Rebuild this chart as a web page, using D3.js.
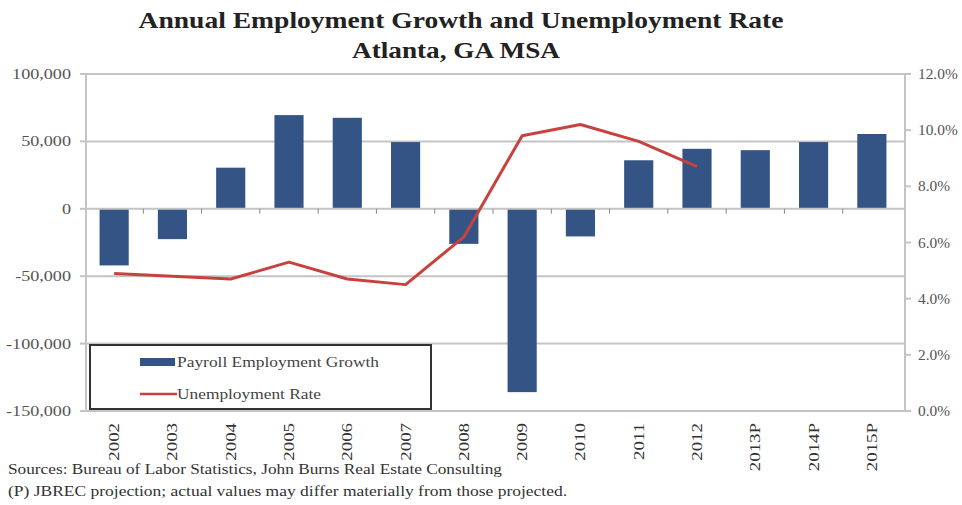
<!DOCTYPE html>
<html><head><meta charset="utf-8">
<script src="https://cdn.jsdelivr.net/npm/d3@7"></script>
<style>body{margin:0;background:#fff}text{font-family:"Liberation Serif","Times New Roman",serif}</style>
</head><body><svg id="c" width="962" height="505"></svg>
<script>
const categories=["2002","2003","2004","2005","2006","2007","2008","2009","2010","2011","2012","2013P","2014P","2015P"];
const payrollGrowth=[-42000,-22500,30500,69500,67500,49500,-26000,-136000,-20500,36000,44500,43500,49500,55500];
const unemploymentRate=[4.9,4.8,4.7,5.3,4.7,4.5,6.2,9.8,10.2,9.6,8.7,null,null,null];
const leftTicks=[100000,50000,0,-50000,-100000,-150000];
const rightTicks=[0,2,4,6,8,10,12];
const titleLines=["Annual Employment Growth and Unemployment Rate","Atlanta, GA MSA"];
const sourceLines=["Sources: Bureau of Labor Statistics, John Burns Real Estate Consulting","(P) JBREC projection; actual values may differ materially from those projected."];
const legendLabels=["Payroll Employment Growth","Unemployment Rate"];

const svg=d3.select("#c");
const L=86,R=905,T=74,B=411;
const x=d3.scaleBand().domain(categories).range([85,901]).paddingInner(0.5).paddingOuter(0.25);
const y=d3.scaleLinear().domain([-150000,100000]).range([B,T]);
const y2=d3.scaleLinear().domain([0,12]).range([B,T]);
const grid="#c4c4c4", txt="#555";

// gridlines
svg.append("g").selectAll("line").data(leftTicks.filter(d=>d!==0)).join("line")
 .attr("x1",L).attr("x2",R).attr("y1",d=>y(d)).attr("y2",d=>y(d))
 .attr("stroke",grid).attr("stroke-width",2);

// bars
const bw=x.bandwidth();
svg.append("g").selectAll("rect").data(payrollGrowth).join("rect")
 .attr("x",(d,i)=>x(categories[i])).attr("width",bw)
 .attr("y",d=>y(Math.max(0,d))).attr("height",d=>Math.abs(y(d)-y(0)))
 .attr("fill","#335485");

// zero axis with ticks
svg.append("line").attr("x1",L).attr("x2",R).attr("y1",y(0)).attr("y2",y(0)).attr("stroke",grid).attr("stroke-width",2);
const step=x.step();
svg.append("g").selectAll("line").data(categories.slice(1)).join("line")
 .attr("x1",d=>x(d)-step*0.25).attr("x2",d=>x(d)-step*0.25)
 .attr("y1",y(0)).attr("y2",y(0)+5).attr("stroke","#888").attr("stroke-width",1);

// left axis
const la=svg.append("g");
la.append("line").attr("x1",L).attr("x2",L).attr("y1",T).attr("y2",B).attr("stroke",grid).attr("stroke-width",2);
la.selectAll("line.t").data(leftTicks).join("line").attr("class","t")
 .attr("x1",L-6).attr("x2",L).attr("y1",d=>y(d)).attr("y2",d=>y(d)).attr("stroke",grid).attr("stroke-width",2);
la.selectAll("text").data(leftTicks).join("text")
 .attr("transform",d=>`translate(71,${y(d)+5}) scale(1.25,1)`).attr("text-anchor","end").attr("font-size",14.5).attr("fill",txt)
 .text(d=>d3.format(",")(d).replace("−","-"));

// right axis
const ra=svg.append("g");
ra.append("line").attr("x1",R).attr("x2",R).attr("y1",T).attr("y2",B).attr("stroke",grid).attr("stroke-width",2);
ra.selectAll("line.t").data(rightTicks).join("line").attr("class","t")
 .attr("x1",R).attr("x2",R+6).attr("y1",d=>y2(d)).attr("y2",d=>y2(d)).attr("stroke",grid).attr("stroke-width",2);
ra.selectAll("text").data(rightTicks).join("text")
 .attr("transform",d=>`translate(918,${y2(d)+5}) scale(1.06,1)`).attr("font-size",14.5).attr("fill",txt)
 .text(d=>d.toFixed(1)+"%");

// line
const pts=unemploymentRate.map((v,i)=>[categories[i],v]).filter(d=>d[1]!=null);
svg.append("path").datum(pts)
 .attr("d",d3.line().x(d=>x(d[0])+bw/2).y(d=>y2(d[1])))
 .attr("fill","none").attr("stroke","#c9413f").attr("stroke-width",3).attr("stroke-linejoin","round");

// category labels
svg.append("g").selectAll("text").data(categories).join("text")
 .attr("transform",d=>`translate(${x(d)+bw/2+5},423) rotate(-90) scale(1.3,1)`)
 .attr("text-anchor","end").attr("font-size",14.5).attr("fill","#333").text(d=>d);

// legend
const lg=svg.append("g");
lg.append("rect").attr("x",90).attr("y",345).attr("width",341).attr("height",64)
 .attr("fill","#fff").attr("stroke","#333").attr("stroke-width",2);
lg.append("rect").attr("x",140).attr("y",358).attr("width",35).attr("height",8).attr("fill","#335485");
lg.append("line").attr("x1",140).attr("x2",177).attr("y1",394).attr("y2",394).attr("stroke","#c9413f").attr("stroke-width",2.5);
const legendLens=[202,144];
lg.selectAll("text").data(legendLabels).join("text")
 .attr("x",177).attr("y",(d,i)=>367+i*32).attr("font-size",15).attr("fill","#444")
 .attr("textLength",(d,i)=>legendLens[i]).attr("lengthAdjust","spacingAndGlyphs").text(d=>d);

// title
const titleLens=[645,208], titleX=[461,456];
svg.append("g").selectAll("text").data(titleLines).join("text")
 .attr("x",(d,i)=>titleX[i]).attr("y",(d,i)=>28+i*30).attr("text-anchor","middle")
 .attr("font-size",23).attr("font-weight","bold").attr("fill","#222")
 .attr("textLength",(d,i)=>titleLens[i]).attr("lengthAdjust","spacingAndGlyphs").text(d=>d);

// sources
const srcLens=[494,559];
svg.append("g").selectAll("text").data(sourceLines).join("text")
 .attr("x",8).attr("y",(d,i)=>474+i*22).attr("font-size",15).attr("fill","#333")
 .attr("textLength",(d,i)=>srcLens[i]).attr("lengthAdjust","spacingAndGlyphs").text(d=>d);
</script></body></html>
